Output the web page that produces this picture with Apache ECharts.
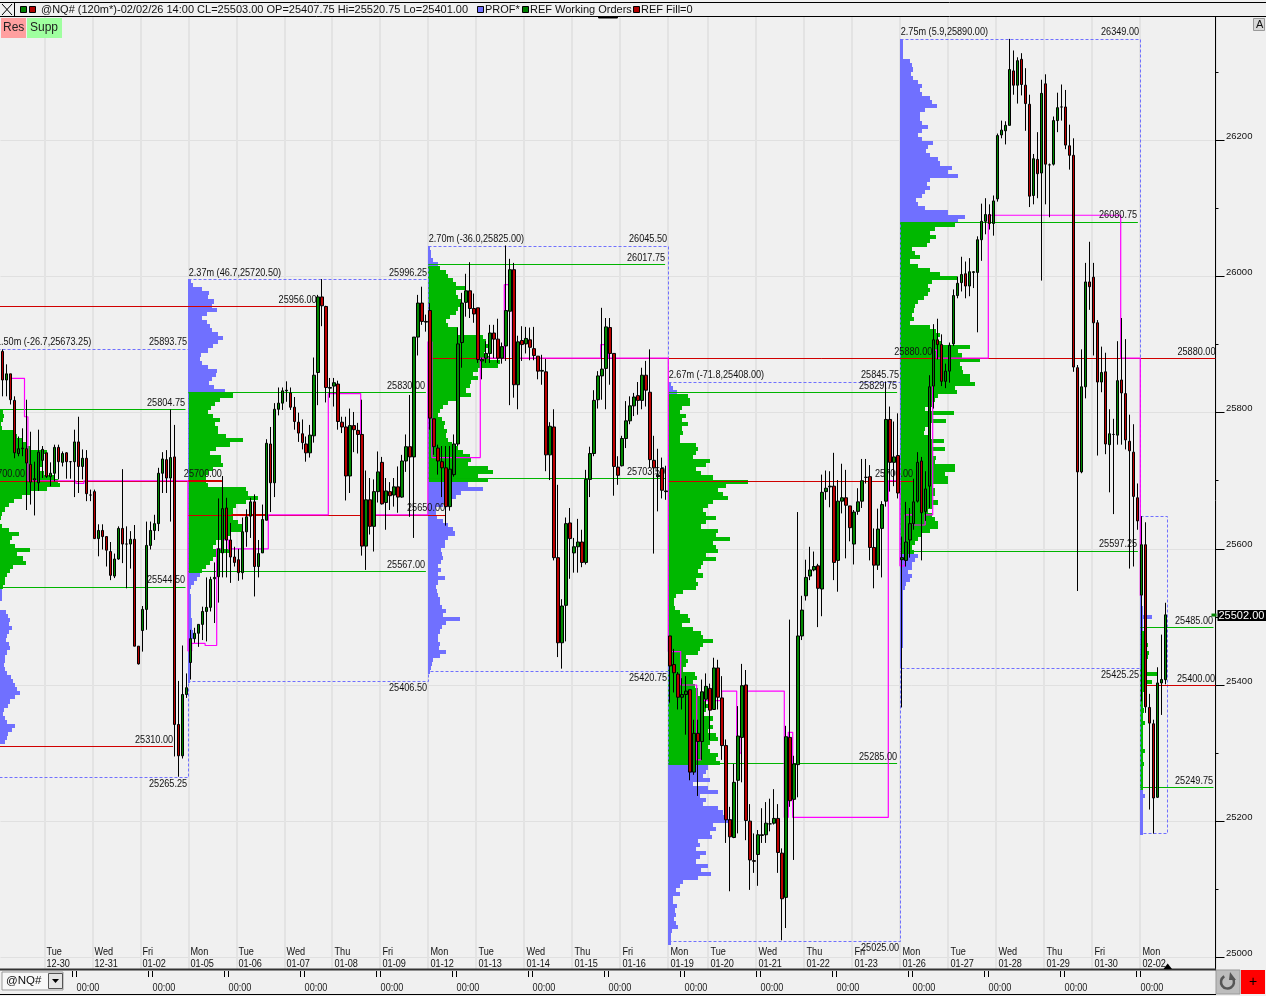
<!DOCTYPE html>
<html><head><meta charset="utf-8">
<style>html,body{margin:0;padding:0;background:#f0f0f0;overflow:hidden}#c{width:1266px;height:996px}</style>
<script src="https://cdn.jsdelivr.net/npm/echarts@6/dist/echarts.min.js"></script>
</head><body><div id="c"></div>
<script>
// OHLC, [open, close, low, high], one block per trading week
const week0=[[25890,25848,25824,25893],[25848,25857,25824,25871],[25857,25819,25812,25857],[25818,25741,25733,25824],[25740,25747,25736,25765],[25747,25748,25736,25777],[25747,25726,25657,25819],[25724,25698,25665,25772],[25701,25703,25649,25728],[25697,25742,25685,25775],[25730,25746,25704,25751],[25741,25706,25704,25741],[25706,25711,25692,25727],[25711,25749,25699,25753],[25749,25728,25702,25753],[25727,25740,25721,25743],[25741,25728,25703,25742],[25728,25728,25703,25729],[25728,25757,25676,25775],[25757,25721,25682,25794],[25721,25733,25702,25746],[25733,25681,25670,25745],[25679,25679,25670,25687],[25684,25615,25615,25687],[25615,25627,25589,25636],[25627,25618,25599,25636],[25618,25598,25574,25618],[25596,25561,25554,25610],[25560,25585,25557,25593],[25585,25630,25584,25633],[25630,25607,25579,25717],[25607,25607,25542,25633],[25607,25614,25571,25626],[25614,25457,25457,25635],[25457,25431,25430,25457],[25480,25511,25449,25516],[25511,25605,25481,25640],[25605,25627,25599,25640],[25627,25637,25613,25650],[25637,25711,25626,25719],[25711,25732,25682,25742],[25731,25704,25682,25745],[25704,25734,25640,25804.75],[25735,25342,25295,25782],[25342,25296,25265.25,25406],[25296,25386,25292,25458],[25386,25396,25381,25417]];
const week1=[[25433,25468,25408,25481],[25468,25476,25462,25484],[25476,25489,25456,25489],[25489,25508,25466,25515],[25508,25514,25464,25558],[25514,25555,25508,25559],[25556,25558,25491,25580],[25559,25600,25521,25674],[25594,25659,25558,25707],[25660,25613,25558,25675],[25613,25588,25550,25638],[25588,25580,25574,25603],[25584,25565,25553,25600],[25565,25625,25555,25646],[25625,25647,25603,25658],[25648,25669,25616,25675],[25669,25574,25530,25680],[25574,25593,25558,25613],[25594,25643,25594,25665],[25642,25755,25642,25761],[25754,25697,25654,25779],[25697,25805,25676,25814],[25805,25814,25796,25837],[25814,25832,25804,25837],[25832,25833,25816,25846],[25829,25808,25804,25837],[25808,25787,25775,25823],[25786,25770,25757,25800],[25769,25756,25746,25790],[25754,25741,25728,25765],[25741,25767,25734,25782],[25766,25855,25756,25881],[25859,25970,25811,25973],[25970,25957,25927,25996.25],[25956,25837,25815,25957],[25836,25837,25822,25851],[25839,25844,25809,25851],[25842,25787,25775,25847],[25786,25779,25770,25794],[25779,25707,25671,25794],[25707,25781,25682,25806],[25781,25775,25742,25801],[25774,25768,25740,25785],[25768,25604,25590,25819],[25604,25672,25569,25715],[25672,25633,25621,25704],[25633,25684,25596,25702],[25684,25713,25668,25743],[25727,25666,25665,25735],[25668,25685,25628,25704],[25684,25678,25657,25698],[25679,25691,25662,25704],[25691,25676,25653,25721],[25676,25729,25675,25738],[25729,25750,25713,25768],[25750,25735,25647,25826],[25735,25911,25616,25911],[25911,25961,25884,25973],[25961,25934,25929,25985],[25933,25934,25919,25944]];
const week2=[[25950,25792,25775,25961],[25791,25750,25738,25791],[25748,25729,25709,25753],[25728,25719,25676,25751],[25719,25662,25634,25751],[25662,25717,25656,25751],[25709,25754,25706,25768],[25754,25901,25751,25925],[25903,25961,25866,25976],[25962,25979,25941,26004],[25979,25953,25939,26021],[25953,25945,25932,25975],[25954,25878,25873,25954],[25876,25878,25849,25881],[25880,25887,25873,25905],[25887,25917,25873,25929],[25917,25908,25880,25929],[25908,25880,25873,25938],[25880,25897,25872,25903],[25898,25950,25876,26045.5],[25949,26010,25811,26026],[26010,25841,25822,26020],[25841,25904,25805,25913],[25906,25900,25876,25927],[25901,25909,25887,25926],[25907,25896,25877,25925],[25894,25884,25877,25926],[25883,25861,25849,25883],[25861,25862,25841,25885],[25860,25738,25714,25879],[25738,25780,25701,25786],[25779,25587,25583,25805],[25587,25462,25441,25694],[25462,25516,25424,25526],[25517,25637,25464,25646],[25638,25615,25556,25660],[25594,25603,25565,25616],[25603,25610,25565,25644],[25610,25580,25573,25628],[25580,25702,25577,25716],[25702,25740,25676,25750],[25740,25818,25736,25833],[25819,25854,25806,25861],[25854,25864,25819,25954],[25865,25926,25805,25939],[25925,25887,25841,25939],[25887,25721,25678,25887],[25720,25708,25694,25736],[25722,25762,25721,25766],[25762,25788,25748,25817],[25788,25810,25783,25824],[25810,25823,25795,25829],[25825,25818,25797,25845],[25818,25855,25805,25866],[25855,25833,25809,25876],[25830,25731,25719,25893],[25730,25719,25593,25766],[25706,25708,25655,25747],[25718,25686,25674,25734],[25684,25685,25672,25722]];
const week3=[[25472,25428,25374,25472],[25430,25418,25389,25453],[25416,25382,25364,25419],[25382,25386,25364,25410],[25386,25391,25327,25413],[25393,25272,25260,25393],[25272,25329,25268,25349],[25329,25317,25237,25349],[25317,25390,25290,25408],[25379,25398,25366,25417],[25395,25363,25319,25402],[25364,25425,25364,25440],[25425,25382,25364,25437],[25381,25311,25290,25413],[25311,25202,25168,25320],[25202,25177,25097,25221],[25176,25257,25175,25284],[25260,25325,25182,25369],[25323,25399,25257,25431],[25400,25201,25172,25422],[25200,25143,25099,25225],[25142,25141,25124,25182],[25151,25180,25105,25187],[25179,25180,25168,25219],[25180,25197,25168,25228],[25196,25196,25185,25233],[25197,25204,25195,25247],[25204,25154,25124,25225],[25153,25086,25025,25160],[25088,25324,25043,25340],[25323,25230,25221,25496],[25232,25284,25143,25296],[25283,25472,25235,25654],[25472,25510,25466,25531],[25531,25558,25524,25584],[25560,25569,25554,25603],[25569,25574,25567,25596],[25575,25542,25485,25578],[25541,25683,25501,25709],[25684,25689,25672,25715],[25691,25692,25661,25714],[25692,25580,25554,25741],[25583,25670,25537,25701],[25670,25675,25652,25725],[25675,25664,25586,25716],[25663,25631,25611,25663],[25607,25654,25577,25657],[25655,25669,25650,25689],[25670,25700,25660,25732],[25705,25705,25696,25732],[25706,25602,25583,25723],[25602,25576,25542,25630],[25576,25629,25569,25659],[25630,25665,25558,25670],[25670,25790,25662,25845.75],[25790,25727,25684,25809],[25727,25735,25692,25787],[25737,25682,25674,25799]];
const week4=[[25584,25587,25367,25618],[25583,25610,25574,25669],[25613,25637,25587,25660],[25637,25669,25628,25703],[25670,25727,25668,25742],[25729,25653,25583,25735],[25655,25688,25641,25714],[25692,25838,25660,25855],[25839,25907,25806,25930],[25907,25900,25878,25938],[25900,25846,25839,25915],[25846,25861,25836,25872],[25861,25899,25844,25903],[25901,25972,25898,25981],[25972,25990,25968,26000],[25991,26003,25978,26029],[26004,25986,25968,26022],[25986,26007,25971,26027],[26006,26007,25983,26008],[26006,26054,25918,26059],[26054,26081,26023,26107],[26081,26091,26062,26115],[26091,26078,26069,26106],[26078,26111,26060,26119],[26114,26207,26110,26210],[26208,26215,26203,26229],[26214,26222,26194,26228],[26222,26304,26222,26349],[26302,26281,26267,26332],[26281,26317,26254,26322],[26319,26282,26266,26328],[26281,26254,26214,26306],[26253,26118,26102,26267],[26119,26173,26106,26180],[26172,26151,26115,26212],[26152,26269,25994,26289],[26283,26165,26106,26297],[26164,26164,26087,26166],[26165,26229,26163,26235],[26229,26248,26212,26270],[26249,26249,26229,26282],[26249,26193,26187,26274],[26192,26178,26157,26223],[26178,25867,25860,26203],[25866,25713,25538,25870],[25713,25838,25711,25893],[25838,25992,25821,26020],[25992,25985,25951,26051],[25999,25932,25884,26020],[25932,25845,25737,25936],[25845,25859,25830,25897],[25860,25754,25739,25888],[25753,25769,25683,25805],[25768,25768,25651,25791],[25767,25847,25753,25905],[25848,25829,25753,25939],[25828,25760,25746,25908],[25758,25744,25571,25797],[25742,25677,25574,25783],[25675,25641,25628,25696]];
const week5=[[25532,25606,25376,25648],[25606,25368,25359,25639],[25367,25344,25217,25387],[25343,25234,25181.75,25349],[25235,25403,25234,25426],[25403,25408,25356,25474],[25407.75,25503,25401,25520.75]];
const ohlc=[...week0,...week1,...week2,...week3,...week4,...week5];
const slotCount=304;
const categories=Array.from({length:slotCount},(_,i)=>String(i));

// session starts (bar slot), and their date labels
const dayStarts=[11,23,35,47,59,71,83,95,107,119,131,143,155,167,177,189,201,213,225,237,249,261,273,285];
const dayNames=['Tue','Wed','Fri','Mon','Tue','Wed','Thu','Fri','Mon','Tue','Wed','Thu','Fri','Mon','Tue','Wed','Thu','Fri','Mon','Tue','Wed','Thu','Fri','Mon'];
const dayDates=['12-30','12-31','01-02','01-05','01-06','01-07','01-08','01-09','01-12','01-13','01-14','01-15','01-16','01-19','01-20','01-21','01-22','01-23','01-26','01-27','01-28','01-29','01-30','02-02'];

// volume-at-price rows (one row = 6 points, from the top of each profile down)
const prof0=[3,4,3,1,2,15,17,22,26,30,47,44,43,42,40,44,55,58,60,47,30,22,14,9,5,2,1,0,2,9,19,12,10,15,30,17,23,26,13,10,7,5,5,3,2,2,2,0,0,6,8,10,9,12,9,7,6,9,10,7,5,5,4,5,7,11,13,15,17,20,15,10,8,4,3,5,7,15,12,8,7,5];
const prof1=[3,5,14,21,20,26,24,29,19,14,19,22,24,30,35,30,25,20,13,12,14,20,29,28,24,21,26,37,45,32,27,23,20,25,32,27,30,30,38,55,42,28,22,33,33,35,25,20,18,18,20,58,60,70,58,48,45,45,45,50,55,55,42,38,28,25,42,32,25,22,18,14,12,9,6,3,2,3,3,3,3,3,3,4,4,4,5,5,4,3,3,2,2,2,2,2,2,2,2];
const prof2=[2,3,3,5,10,12,18,20,25,28,38,28,30,33,32,30,28,22,18,20,30,30,55,58,60,58,56,62,72,70,50,45,50,43,42,38,43,30,20,15,12,10,14,17,16,19,18,20,24,30,35,42,43,40,60,65,50,60,40,55,33,28,17,15,8,8,9,15,20,25,27,20,17,17,13,14,15,13,10,13,10,17,10,8,9,10,12,12,14,18,15,32,18,14,12,10,10,12,11,18,12,5,4,3,2];
const prof3=[3,5,9,20,22,22,14,12,18,14,20,14,15,12,12,28,30,28,25,42,38,28,33,45,80,58,50,55,60,45,40,35,38,48,38,33,50,48,62,45,48,50,38,48,35,33,30,35,28,30,28,15,8,6,6,7,12,20,22,14,25,33,35,45,35,32,30,18,20,18,15,27,29,25,27,30,30,33,38,40,38,35,45,42,45,40,48,50,42,40,42,50,48,52,40,38,35,42,25,40,50,32,38,35,50,55,57,68,45,48,42,44,30,32,28,38,32,28,40,33,43,30,15,12,8,12,5,5,9,7,8,6,8,10,4,3,3,3];
const prof4=[3,3,3,3,3,10,12,13,11,13,18,22,20,22,30,32,37,25,20,20,22,28,22,18,22,33,28,26,30,38,40,52,48,58,30,27,30,25,22,16,18,25,48,65,58,55,35,30,36,30,27,12,15,20,10,18,30,40,57,32,28,30,28,24,18,15,14,12,14,10,30,36,40,38,42,70,58,62,80,60,62,63,70,70,75,55,57,38,35,32,25,54,32,46,30,25,24,30,44,32,45,33,36,35,55,55,45,48,48,33,35,35,32,38,32,28,32,35,38,38,30,22,18,15,12,14,18,15,12,12,8,12,10,6,5,3,3,3,3,3,3,3,3,3,3,3,3,3,3,2,2,2,2,2];
const prof5=[1,1,1,1,1,1,1,1,1,1,1,1,1,1,1,1,1,1,1,1,2,2,3,3,12,3,3,3,4,5,4,8,6,9,8,5,6,5,18,5,12,4,4,3,3,3,3,4,3,3,5,3,3,3,3,3,3,5,3,3,4,3,3,3,3,3,3,3,5,3,3,3,3,3,3,3,3,3];
const profileStep=6, pxPerBar=4;
const profiles=[
 {start:0,    top:25804.75,vaHigh:25804.75,vaLow:25544.5, rows:prof0},
 {start:47.1, top:25996.25,vaHigh:25830,   vaLow:25567,   rows:prof1},
 {start:107.1,top:26045.5, vaHigh:26017.75,vaLow:25703.5, rows:prof2},
 {start:167.2,top:25845.75,vaHigh:25829.75,vaLow:25285,   rows:prof3},
 {start:225.2,top:26349,   vaHigh:26080.75,vaLow:25597.25,rows:prof4},
 {start:285.2,top:25647.5, vaHigh:25485,   vaLow:25249.75,rows:prof5}];

// weekly high/low boxes: start slot, end slot, high, low
const boxes=[[-2,46.9,25893.75,25265.25],[47,106.9,25996.25,25406.5],[107,166.9,26045.5,25420.75],[167,225,25845.75,25025],[225,285,26349,25425.25],[285.2,291.9,25647.5,25181.75]];
// levels: price, from slot, to slot, colour key, weight
const levels=[
 [25804.75,0,46.5,'g',1],[25544.5,0,46.5,'g',1],[25956,0,79.3,'r',1],[25310,0,43.4,'r',1],[25700,0,55.6,'r',1],
 [25830,47.2,106.6,'g',1],[25567,47.2,106.6,'g',1],[25650,47.2,111.4,'r',1],[25650,58,66.6,'r',2],[25700,47.2,55.6,'r',2],
 [26017.75,107.2,166.4,'g',1],[25703.5,107.2,166.4,'g',1],[25880,107.2,304,'r',1],
 [25829.75,167.2,224.4,'g',1],[25700,167.2,228.4,'r',1],[25285,167.2,224.4,'g',1],
 [26080.75,225.2,284.6,'g',1],[25597.25,225.2,284.6,'g',1],
 [25485,285.2,303.5,'g',1],[25249.75,285.2,303.5,'g',1],[25400,286.6,304,'r',1]];
// text above(1)/below(-1) a price, right aligned on a slot
const priceNotes=[
 ['25893.75',25893.75,46.9,1],['25265.25',25265.25,46.9,-1],['25804.75',25804.75,46.4,1],['25544.50',25544.5,46.4,1],['25956.00',25956,79.3,1],['25310.00',25310,43.4,1],['25700.00',25700,6.4,1],['25700.00',25700,55.6,1],
 ['25996.25',25996.25,106.9,1],['25406.50',25406.5,106.9,-1],['25830.00',25830,106.4,1],['25567.00',25567,106.4,1],['25650.00',25650,111.4,1],
 ['26045.50',26045.5,166.9,1],['25420.75',25420.75,166.9,-1],['26017.75',26017.75,166.4,1],['25703.50',25703.5,166.4,1],
 ['25845.75',25845.75,224.9,1],['25025.00',25025,224.9,-1],['25829.75',25829.75,224.4,1],['25285.00',25285,224.4,1],['25700.00',25700,228.4,1],['25880.00',25880,233.2,1],
 ['26349.00',26349,284.9,1],['25425.25',25425.25,284.9,-1],['26080.75',26080.75,284.4,1],['25597.25',25597.25,284.4,1],['25880.00',25880,304,1],
 ['25485.00',25485,303.4,1],['25400.00',25400,303.9,1],['25249.75',25249.75,303.4,1]];
const profileNotes=[['1.50m (-26.7,25673.25)',-0.9,25893.75],['2.37m (46.7,25720.50)',47.3,25996.25],['2.70m (-36.0,25825.00)',107.3,26045.5],['2.67m (-71.8,25408.00)',167.3,25845.75],['2.75m (5.9,25890.00)',225.3,26349]];
// magenta stepped fill level: slot, price
const stepLine=[[2.6,25850.5],[6.25,25850.5],[6.25,25794],[7.1,25794],[7.1,25700],[19.1,25700],[19.1,25696],[21.1,25696],[21.1,25700],[47.1,25700],[47.1,25450],[48.05,25450],[48.05,25461],[51.4,25461],[51.4,25458],[54.3,25458],[54.3,25600],[55.95,25600],[55.95,25613],[57.2,25613],[57.2,25600],[67.2,25600],[67.2,25650],[82.2,25650],[82.2,25828],[90.3,25828],[90.3,25650],[107.1,25650],[107.1,25904],[108.1,25904],[108.1,25734],[120.2,25734],[120.2,25880],[126.2,25880],[126.2,25988],[128.2,25988],[128.2,25880],[150.3,25880],[150.3,25900],[152.2,25900],[152.2,25880],[167.2,25880],[167.2,25449],[170.3,25449],[170.3,25400],[174.3,25400],[174.3,25290],[175.4,25290],[175.4,25377],[180.55,25377],[180.55,25391],[184.3,25391],[184.3,25300],[185.4,25300],[185.4,25391],[196.2,25391],[196.2,25205.5],[197.2,25205.5],[197.2,25330.5],[198.3,25330.5],[198.3,25205.5],[222.2,25205.5],[222.2,25700],[225.1,25700],[225.1,25575],[226.4,25575],[226.4,25650],[228.45,25650],[228.45,25635],[231.4,25635],[231.4,25650],[233.3,25650],[233.3,25892],[234.3,25892],[234.3,25880],[247.2,25880],[247.2,26090],[280.3,26090],[280.3,25880],[285.2,25880],[285.2,25531]];
const priceMin=24800, priceMax=26400, priceTick=200;
const lastPrice=25502;
const titleText='@NQ# (120m*)-02/02/26 14:00 CL=25503.00 OP=25407.75 Hi=25520.75 Lo=25401.00';

const FONT='"Liberation Sans",Arial,sans-serif';
const SMALL='11px '+FONT, TITLE='11px '+FONT, SQUEEZE=0.83;
const BLUE='#7070ff', GREEN='#00b800', LINEGREEN='#00b400', RED='#d00000', MAG='#ff00ff', INK='#111';

// condensed small text, anchored at x,y
const narrow=(text,x,y,align,va,fill)=>({type:'text',x,y,scaleX:SQUEEZE,silent:true,
  style:{text,x:0,y:0,textAlign:align,textVerticalAlign:va,font:SMALL,fill:fill||INK}});

const profileData=[];
profiles.forEach(p=>p.rows.forEach((w,i)=>{const price=p.top-i*profileStep;
  profileData.push([p.start,price,w/pxPerBar,(price<=p.vaHigh+0.01&&price>=p.vaLow-0.01)?1:0]);}));

const xAxisCommon={axisLine:{show:false},axisTick:{show:false},axisLabel:{show:false}};
const chart=echarts.init(document.getElementById('c'),null,{renderer:'canvas',width:1266,height:996});

const chrome=[];
const T=(text,x,y,opt={})=>chrome.push({type:'text',z:101,silent:true,style:Object.assign({text,x,y,font:SMALL,fill:INK,textVerticalAlign:'middle'},opt)});
const R=(x,y,w,h,fill,stroke)=>chrome.push({type:'rect',z:100,silent:true,shape:{x,y,width:w,height:h},style:{fill,stroke:stroke||null,lineWidth:1}});
const L=(x1,y1,x2,y2,c,w)=>chrome.push({type:'line',z:101,silent:true,shape:{x1,y1,x2,y2},style:{stroke:c||'#000',lineWidth:w||1}});
// top strip
R(0,0,1266,17,'#f0f0f0');
L(0,2.5,1266,2.5,'#000');L(0,16.5,1266,16.5,'#000');
L(14.5,2,14.5,17,'#000');L(2,4,12,15,'#000');L(12,4,2,15,'#000');
R(20.5,6.5,6,6,'#008000','#000');R(29.5,6.5,6,6,'#b00000','#000');
T(titleText,41,10,{font:TITLE});
R(477.5,6.5,6,6,BLUE,'#000');T('PROF*',485,10,{font:TITLE});
R(522.5,6.5,6,6,'#008000','#000');T('REF Working Orders',530,10,{font:TITLE});
R(633.5,6.5,6,6,'#b00000','#000');T('REF Fill=0',641,10,{font:TITLE});
chrome.push({type:'rect',z:101,silent:true,shape:{x:598,y:16,width:20,height:2.5,r:1.2},style:{fill:'#000'}});
// Res / Supp buttons
R(1,18,25,20,'#ff9f9f');R(27,18,35,20,'#9fff9f');
T('Res',3,28,{font:'12px '+FONT,fill:'#222'});T('Supp',30,28,{font:'12px '+FONT,fill:'#222'});
R(1253.5,18.5,11,12,'#d8d8d8','#999');T('A',1256,25,{font:SMALL});
// bottom strip
R(0,970,1266,26,'#f0f0f0');
L(0,969.5,1216,969.5,'#333',2);L(0,994.5,1216,994.5,'#000',1);
R(2,972,61,18,'#f8f8f8','#999');T('@NQ#',6,981,{font:'11.5px '+FONT});
R(48.5,973.5,14,15,'#e4e4e4','#555');
chrome.push({type:'polygon',z:101,silent:true,shape:{points:[[52,979],[59,979],[55.5,983]]},style:{fill:'#000'}});
for(let i=0;i<15;i++){const x=88+76*i;
  L(x-15.5,971,x-15.5,977,'#000');L(x-11.5,971,x-11.5,977,'#000');
  chrome.push(Object.assign(narrow('00:00',x,987.5,'center','middle','#222'),{z:101}));}
R(1216,970,24,24,'#bdbdbd','#999');
chrome.push({type:'arc',z:101,silent:true,shape:{cx:1227.5,cy:982,r:6.5,startAngle:-0.6,endAngle:4.2,clockwise:true},style:{stroke:'#555',lineWidth:2.5,fill:null}});
chrome.push({type:'polygon',z:101,silent:true,shape:{points:[[1230,972],[1236,980],[1229,980]]},style:{fill:'#555'}});
R(1241,970,24,24,'#ff0000');T('+',1253,982,{font:'14px '+FONT,fill:'#000',textAlign:'center'});
chrome.push({type:'polygon',z:101,silent:true,shape:{points:[[1163.5,969],[1172,969],[1167.7,963.5]]},style:{fill:'#000'}});

chart.setOption({
 animation:false,backgroundColor:'#f0f0f0',
 grid:{left:0.5,top:4.18,width:1215,height:1089.28,containLabel:false,outerBoundsMode:'none'},
 xAxis:[
  Object.assign({type:'category',data:categories,boundaryGap:true,
    splitLine:{show:true,interval:(i)=>dayStarts.includes(i),lineStyle:{color:'#e3e3e3',width:2}}},xAxisCommon),
  Object.assign({type:'value',min:0.25,max:slotCount,splitLine:{show:false}},xAxisCommon)],
 yAxis:{type:'value',min:priceMin,max:priceMax,interval:priceTick,position:'right',
  axisLine:{show:true,onZero:false,lineStyle:{color:'#000',width:1}},
  axisTick:{show:true,length:9,lineStyle:{color:'#000'}},
  minorTick:{show:true,splitNumber:2,length:3,lineStyle:{color:'#000'}},
  splitLine:{show:true,lineStyle:{color:'#e0e0e0',width:1}},
  axisLabel:{show:true,margin:10.5,color:INK,fontFamily:'Liberation Sans',fontSize:9.5,verticalAlign:'bottom',lineHeight:8,showMinLabel:false,showMaxLabel:false,
    formatter:v=>String(v)}},
 graphic:chrome,
 series:[
  {type:'custom',name:'profile',xAxisIndex:1,yAxisIndex:0,z:2,silent:true,clip:true,data:profileData,
   renderItem:(_,api)=>{const a=api.coord([api.value(0),api.value(1)]),b=api.coord([api.value(0)+api.value(2),api.value(1)-profileStep]);
    const x=Math.round(a[0]),y=Math.round(a[1]);
    return {type:'rect',shape:{x,y,width:Math.max(0,Math.round(b[0])-x),height:Math.round(b[1])-y},style:{fill:api.value(3)?GREEN:BLUE}};}},
  {type:'custom',name:'boxes',xAxisIndex:1,yAxisIndex:0,z:3,silent:true,clip:false,data:boxes,
   renderItem:(_,api)=>{const a=api.coord([api.value(0),api.value(2)]),b=api.coord([api.value(1),api.value(3)]);
    const x=Math.round(a[0])+.5,y=Math.round(a[1])+.5;
    return {type:'rect',shape:{x,y,width:Math.round(b[0]-a[0]),height:Math.round(b[1]-a[1])},style:{fill:null,stroke:BLUE,lineWidth:1,lineDash:[3,2]}};}},
  {type:'custom',name:'levels',xAxisIndex:1,yAxisIndex:0,z:4,silent:true,clip:false,
   data:levels.map(l=>[l[0],l[1],l[2],l[3]==='g'?1:0,l[4]]),
   renderItem:(_,api)=>{const a=api.coord([api.value(1),api.value(0)]),b=api.coord([api.value(2),api.value(0)]);
    const w=api.value(4),y=Math.round(a[1])+(w===1?.5:0);
    return {type:'line',shape:{x1:a[0],y1:y,x2:b[0],y2:y},style:{stroke:api.value(3)?LINEGREEN:RED,lineWidth:w}};}},
  {type:'line',name:'fill',xAxisIndex:1,yAxisIndex:0,z:5,silent:true,data:stepLine,showSymbol:false,symbol:'none',lineStyle:{color:MAG,width:1.2},clip:false},
  {type:'custom',name:'notes',xAxisIndex:1,yAxisIndex:0,z:6,silent:true,clip:false,
   data:priceNotes.map((n,i)=>[n[1],n[2],n[3],i]),
   renderItem:(_,api)=>{const c=api.coord([api.value(1),api.value(0)]),up=api.value(2)>0;
    return narrow(priceNotes[api.value(3)][0],c[0],c[1]+(up?-1:2),'right',up?'bottom':'top');}},
  {type:'custom',name:'profile notes',xAxisIndex:1,yAxisIndex:0,z:6,silent:true,clip:false,
   data:profileNotes.map((n,i)=>[n[1],n[2],i]),
   renderItem:(_,api)=>{const c=api.coord([api.value(0),api.value(1)]);
    return narrow(profileNotes[api.value(2)][0],c[0],c[1]-1,'left','bottom');}},
  {type:'candlestick',name:'@NQ#',xAxisIndex:0,yAxisIndex:0,z:8,silent:true,barWidth:3,data:ohlc,
   itemStyle:{color:'#008800',color0:'#bb0000',borderColor:'#000',borderColor0:'#000',borderColorDoji:'#000',borderWidth:1}},
  {type:'custom',name:'dates',xAxisIndex:1,yAxisIndex:0,z:9,silent:true,clip:false,
   data:dayStarts.map((d,i)=>[d,i]),
   renderItem:(_,api)=>{const c=api.coord([api.value(0),25000]),i=api.value(1);
    return {type:'group',children:[
      narrow(dayNames[i],c[0]+3,c[1]+0.5,'left','bottom'),
      narrow(dayDates[i],c[0]+3,c[1]+1,'left','top')]};}},
  {type:'custom',name:'last price',xAxisIndex:1,yAxisIndex:0,z:20,silent:true,clip:false,data:[[slotCount,lastPrice]],
   renderItem:(_,api)=>{const c=api.coord([api.value(0),api.value(1)]);
    return {type:'group',children:[
     {type:'rect',shape:{x:c[0]+2,y:c[1]-5.5,width:50,height:11},style:{fill:'#000'}},
     {type:'rect',shape:{x:c[0]-4,y:c[1]-2,width:5,height:3},style:{fill:'#008000'}},
     {type:'text',style:{text:'25502.00',x:c[0]+3,y:c[1],textVerticalAlign:'middle',font:'11px '+FONT,fill:'#fff'}}]};}}
 ]
});
</script></body></html>
